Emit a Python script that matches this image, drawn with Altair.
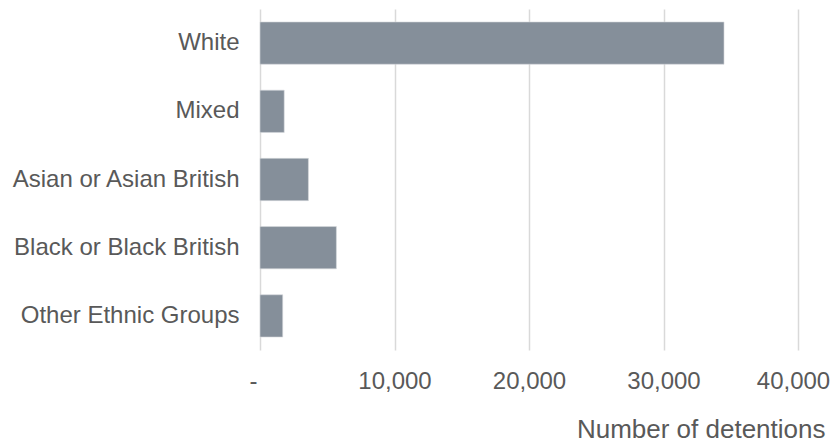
import altair as alt
import pandas as pd

categories = ["White", "Mixed", "Asian or Asian British", "Black or Black British", "Other Ethnic Groups"]
detentions = [34500, 1800, 3600, 5680, 1690]
x_ticks = [0, 10000, 20000, 30000, 40000]

df = pd.DataFrame({"group": categories, "detentions": detentions})

FONT = "Liberation Sans"
TXT = "#595959"

chart = (
    alt.Chart(df)
    .mark_bar(color="#858f9a", stroke="#d6dadd", strokeWidth=0.6)
    .encode(
        x=alt.X(
            "detentions:Q",
            scale=alt.Scale(domain=[0, 40000], nice=False, zero=True),
            axis=alt.Axis(
                values=x_ticks,
                labelExpr="datum.value == 0 ? '-' : format(datum.value, ',')",
                labelOffset={
                    "condition": [
                        {"test": "datum.value == 0", "value": -7},
                        {"test": "datum.value == 40000", "value": -5},
                    ],
                    "value": 0,
                },
                grid=True,
                gridColor="#d9d9d9",
                gridWidth=1.5,
                domain=False,
                ticks=False,
                labelFont=FONT,
                labelFontSize=24,
                labelColor=TXT,
                labelPadding=19,
                labelFlush=False,
                labelOverlap=False,
                title="Number of detentions",
                titleFont=FONT,
                titleFontSize=26,
                titleFontWeight="normal",
                titleColor=TXT,
                titleAlign="right",
                titleAnchor="end",
                titleBaseline="alphabetic",
                titleX=565,
                titleY=87,
            ),
        ),
        y=alt.Y(
            "group:N",
            sort=categories,
            scale=alt.Scale(paddingInner=0.38, paddingOuter=0.19),
            axis=alt.Axis(
                title=None,
                domain=False,
                ticks=False,
                grid=False,
                labelFont=FONT,
                labelFontSize=24,
                labelColor=TXT,
                labelPadding=21,
                labelLimit=400,
            ),
        ),
    )
    .properties(
        width=538,
        height=341,
        background="white",
        autosize=alt.AutoSizeParams(type="none"),
        padding={"left": 252, "top": 1, "right": 32, "bottom": 92},
    )
    .configure_view(stroke=None)
)

chart.save("out.html", embed_options={"renderer": "svg", "actions": False})
